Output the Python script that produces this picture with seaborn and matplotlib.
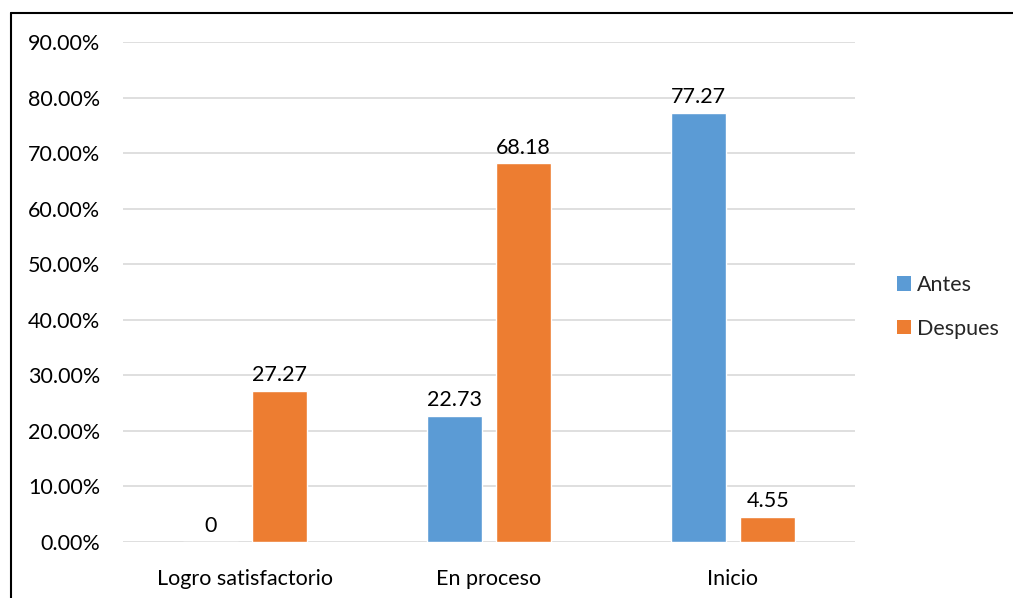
import matplotlib
matplotlib.use("Agg")
import matplotlib.pyplot as plt
from matplotlib.lines import Line2D
from matplotlib.patches import Patch
import seaborn as sns
import pandas as pd

# chart values (percent)
categories = ["Logro satisfactorio", "En proceso", "Inicio"]
antes = [0, 22.73, 77.27]
despues = [27.27, 68.18, 4.55]
series_names = ["Antes", "Despues"]
y_ticks = [0, 10, 20, 30, 40, 50, 60, 70, 80, 90]

colors = ["#5B9BD5", "#ED7D31"]

df = pd.DataFrame({
    "Categoria": categories * 2,
    "Valor": antes + despues,
    "Serie": [series_names[0]] * 3 + [series_names[1]] * 3,
})

sns.set_theme(style="white")
plt.rcParams["font.family"] = ["Lato", "DejaVu Sans"]
fs = 15.5

fig = plt.figure(figsize=(10.13, 5.98), dpi=100)
ax = fig.add_axes([0.1214, 0.0936, 0.7226, 0.8362])

sns.barplot(data=df, x="Categoria", y="Valor", hue="Serie", palette=colors,
            width=0.57, gap=0.21, ax=ax, legend=False, saturation=1)

for cont in ax.containers:
    ax.bar_label(cont, labels=[f"{v:g}" if v == 0 else f"{v:.2f}" for v in cont.datavalues],
                 padding=4, fontsize=fs, color="#000000")

ax.set_ylim(0, 90)
ax.set_xlim(-0.5, 2.5)
ax.set_yticks(y_ticks)
ax.set_yticklabels([f"{t:.2f}%" for t in y_ticks])
ax.yaxis.grid(True, color="#D9D9D9", linewidth=1.2)
ax.set_axisbelow(True)
for s in ax.spines.values():
    s.set_visible(False)
ax.tick_params(axis="y", length=0, pad=16.5, labelsize=fs, labelcolor="#000000")
ax.tick_params(axis="x", length=0, pad=19.5, labelsize=fs, labelcolor="#000000")
ax.set_xlabel("")
ax.set_ylabel("")

handles = [Patch(facecolor=c, edgecolor="none") for c in colors]
fig.legend(handles, series_names, loc="center left", bbox_to_anchor=(0.866, 0.487),
           frameon=False, fontsize=fs, handlelength=0.65, handleheight=0.65,
           handletextpad=0.3, labelspacing=1.1)

# chart border (only top and left visible)
fig.add_artist(Line2D([0.011, 1.0], [0.978, 0.978], color="black", linewidth=1.5,
                      transform=fig.transFigure))
fig.add_artist(Line2D([0.011, 0.011], [0.0, 0.978], color="black", linewidth=1.5,
                      transform=fig.transFigure))

fig.savefig("out.png", dpi=100)
